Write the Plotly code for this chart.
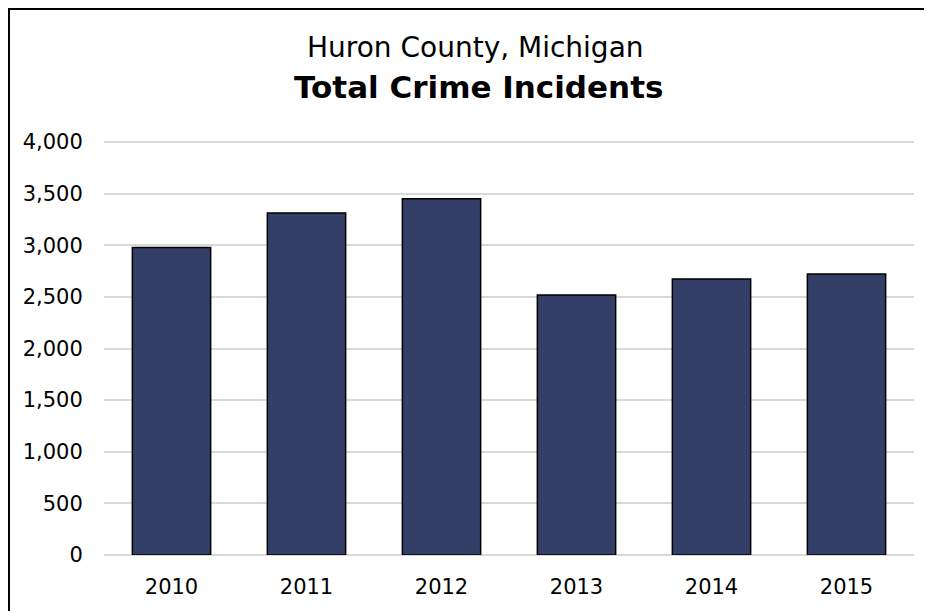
import plotly.graph_objects as go

# Data
years = ["2010", "2011", "2012", "2013", "2014", "2015"]
incidents = [2978, 3312, 3450, 2519, 2674, 2722]
y_ticks = [0, 500, 1000, 1500, 2000, 2500, 3000, 3500, 4000]

FONT = "DejaVu Sans, Verdana, sans-serif"
BAR_COLOR = "#343F67"

# the page body has an 8px margin, so the figure is 8px smaller than the window
W, H = 924, 603
# plot area in figure pixels: x 96..906, y 133..547
L, R, T, B = 96, 18, 133, 56
PW, PH = W - L - R, H - T - B


def px_x(p):
    return (p - L) / PW


def px_y(p):
    return (H - B - p) / PH


fig = go.Figure()
fig.add_trace(
    go.Bar(
        x=years,
        y=incidents,
        marker=dict(color=BAR_COLOR, line=dict(color="#000000", width=1.5)),
        hoverinfo="x+y",
    )
)

fig.update_layout(
    width=W,
    height=H,
    margin=dict(l=L, r=R, t=T, b=B),
    paper_bgcolor="white",
    plot_bgcolor="white",
    bargap=0.42,
    showlegend=False,
    font=dict(family=FONT, size=21, color="#000000"),
)

fig.update_xaxes(
    showgrid=False,
    showline=False,
    ticks="outside",
    ticklen=13,
    tickcolor="rgba(0,0,0,0)",
    tickfont=dict(size=21),
)
fig.update_yaxes(
    range=[0, 4010],
    tickvals=y_ticks,
    tickformat=",",
    showgrid=True,
    gridcolor="#D9D9D9",
    gridwidth=1.5,
    zeroline=True,
    zerolinecolor="#D9D9D9",
    zerolinewidth=1.5,
    showline=False,
    ticks="outside",
    ticklen=16,
    tickcolor="rgba(0,0,0,0)",
    tickfont=dict(size=21),
)

# two-line title
fig.add_annotation(
    text="Huron County, Michigan",
    xref="paper", yref="paper",
    x=px_x(467), y=px_y(40),
    xanchor="center", yanchor="middle",
    showarrow=False,
    font=dict(family=FONT, size=28, color="#000000"),
)
fig.add_annotation(
    text="<b>Total Crime Incidents</b>",
    xref="paper", yref="paper",
    x=px_x(470), y=px_y(79),
    xanchor="center", yanchor="middle",
    showarrow=False,
    font=dict(family=FONT, size=31, color="#000000"),
)

# outer frame of the chart
fig.add_shape(
    type="rect",
    xref="paper", yref="paper",
    x0=px_x(1), x1=px_x(930),
    y0=px_y(610), y1=px_y(1),
    line=dict(color="#000000", width=2),
    fillcolor="rgba(0,0,0,0)",
    layer="above",
)

fig.write_html("out.html")
